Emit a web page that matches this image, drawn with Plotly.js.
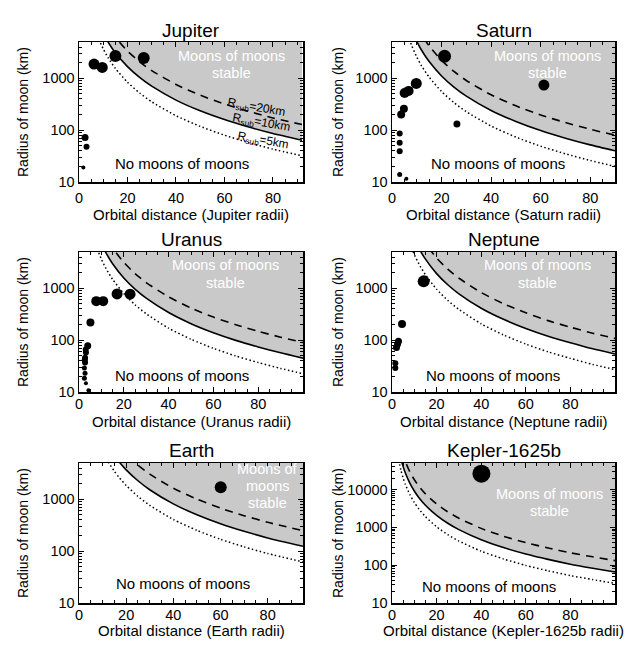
<!DOCTYPE html>
<html><head><meta charset="utf-8">
<script src="https://cdn.plot.ly/plotly-3.0.1.min.js"></script>
<style>html,body{margin:0;padding:0;background:#fff}#chart{width:640px;height:647px}</style>
</head><body><div id="chart"></div>
<script>
// ---------- data ----------
const xTickVals = [0, 20, 40, 60, 80];
const xTickText = ['0', '20', '40', '60', '80'];
const yTickVals = [10, 100, 1000, 10000];
const yTickText = ['10', '100', '1000', '10000'];
const yMinorVals = [20,30,40,50,60,70,80,90,200,300,400,500,600,700,800,900,2000,3000,4000,5000,6000,7000,8000,9000,20000,30000,40000,50000];

const panelNames = ['Jupiter', 'Saturn', 'Uranus', 'Neptune', 'Earth', 'Kepler-1625b'];
const xTitles = ['Orbital distance (Jupiter radii)', 'Orbital distance (Saturn radii)', 'Orbital distance (Uranus radii)',
                 'Orbital distance (Neptune radii)', 'Orbital distance (Earth radii)', 'Orbital distance (Kepler-1625b radii)'];
const rsubLabels = ['R<sub>sub</sub>=20km', 'R<sub>sub</sub>=10km', 'R<sub>sub</sub>=5km'];

// critical-radius curves (solid = Rsub 10 km, dashed = 20 km, dotted = 5 km)
const jupiterCurveX = [6, 8, 10, 12, 15, 20, 25, 30, 40, 50, 60, 70, 80, 92];
const jupiterSolid  = [22000, 11900, 7380, 5000, 3100, 1680, 1040, 704, 380, 236, 160, 115, 86, 64];
const jupiterDashed = [44000, 23800, 14760, 10000, 6200, 3360, 2080, 1408, 760, 472, 320, 230, 172, 128];
const jupiterDotted = [11000, 5950, 3690, 2500, 1550, 840, 520, 352, 190, 118, 80, 57.5, 43, 32];

const saturnCurveX = [6, 8, 10, 12, 15, 20, 25, 30, 40, 50, 60, 70, 80, 90];
const saturnSolid  = [15900, 8420, 5140, 3440, 2100, 1110, 679, 454, 240, 147, 98, 70, 52, 40];
const saturnDashed = [31800, 16840, 10280, 6880, 4200, 2220, 1358, 908, 480, 294, 196, 140, 104, 80];
const saturnDotted = [7950, 4210, 2570, 1720, 1050, 555, 340, 227, 120, 73.5, 49, 35, 26, 20];

const uranusCurveX = [6, 8, 10, 12, 15, 20, 25, 30, 40, 50, 60, 70, 80, 90, 100];
const uranusSolid  = [22500, 11950, 7290, 4870, 2980, 1580, 963, 644, 341, 208, 139, 99, 74, 57, 45];
const uranusDashed = [45000, 23900, 14580, 9740, 5960, 3160, 1926, 1288, 682, 416, 278, 198, 148, 114, 90];
const uranusDotted = [11250, 5975, 3645, 2435, 1490, 790, 482, 322, 170, 104, 69.5, 49.5, 37, 28.5, 22.5];

const neptuneCurveX = [6, 8, 10, 12, 15, 20, 25, 30, 40, 50, 60, 70, 80, 90, 100];
const neptuneSolid  = [27900, 14700, 8960, 5980, 3650, 1920, 1170, 783, 413, 252, 168, 119, 89, 68, 54];
const neptuneDashed = [55800, 29400, 17920, 11960, 7300, 3840, 2340, 1566, 826, 504, 336, 238, 178, 136, 108];
const neptuneDotted = [13950, 7350, 4480, 2990, 1825, 960, 585, 392, 206, 126, 84, 59.5, 44.5, 34, 27];

const earthCurveX = [8, 10, 12, 15, 17, 20, 25, 30, 40, 50, 60, 70, 80, 95];
const earthSolid  = [27300, 16800, 11300, 6940, 5280, 3700, 2280, 1530, 817, 503, 338, 242, 180, 124];
const earthDashed = [54600, 33600, 22600, 13880, 10560, 7400, 4560, 3060, 1634, 1006, 676, 484, 360, 248];
const earthDotted = [13650, 8400, 5650, 3470, 2640, 1850, 1140, 765, 408, 252, 169, 121, 90, 62];

const keplerCurveX = [3, 4, 5, 6, 8, 10, 12, 15, 20, 25, 30, 40, 50, 60, 70, 80, 90, 100];
const keplerSolid  = [119900, 64800, 40200, 27200, 14700, 9110, 6170, 3830, 2070, 1280, 868, 469, 291, 197, 142, 106, 83, 66];
const keplerDashed = [239800, 129600, 80400, 54400, 29400, 18220, 12340, 7660, 4140, 2560, 1736, 938, 582, 394, 284, 212, 166, 132];
const keplerDotted = [59950, 32400, 20100, 13600, 7350, 4555, 3085, 1915, 1035, 640, 434, 234, 146, 98.5, 71, 53, 41.5, 33];

// moons: orbital distance (planet radii), radius (km), marker size
const jupiterMoonX = [1.8, 2.5, 3.1, 6.2, 9.6, 15.0, 26.7];
const jupiterMoonR = [19, 72, 48, 1885, 1620, 2700, 2470];
const jupiterMoonS = [4, 7, 6, 11, 11, 12, 12];

const saturnMoonX = [3.1, 3.1, 3.1, 3.1, 5.8, 3.7, 4.8, 5.1, 6.7, 9.8, 21.2, 26.2, 61.3];
const saturnMoonR = [86, 57, 39, 14, 11.5, 200, 258, 522, 572, 795, 2660, 131, 740];
const saturnMoonS = [6, 6, 6, 5, 4, 8, 8, 10, 10, 11, 13, 7, 11];

const uranusMoonX = [2.4, 2.7, 2.4, 2.7, 2.6, 2.7, 3.1, 3.0, 3.9, 3.1, 4.2, 5.1, 7.7, 10.8, 17.0, 22.8];
const uranusMoonR = [18.5, 23, 29, 37, 42, 46, 58, 66, 78, 14.7, 10.8, 220, 565, 565, 780, 770];
const uranusMoonS = [5, 5, 5, 6, 6, 6, 6, 6, 7, 4, 4, 8, 10, 10, 11, 11];

const neptuneMoonX = [1.5, 1.5, 2.0, 2.5, 2.9, 4.5, 14.2];
const neptuneMoonR = [29, 36, 72, 84, 95, 205, 1360];
const neptuneMoonS = [6, 6, 7, 7, 7, 8, 12];

const earthMoonX = [60.1];
const earthMoonR = [1700];
const earthMoonS = [12];

const keplerMoonX = [40.1];
const keplerMoonR = [26100];
const keplerMoonS = [18];

// ---------- layout configuration ----------
const W = 640, H = 647;
const colX = [[79, 303], [392, 615]];
const rowY = [[42, 182], [252, 392], [463, 603]];
const panels = [
  {cx: jupiterCurveX, s: jupiterSolid, d: jupiterDashed, o: jupiterDotted, mx: jupiterMoonX, my: jupiterMoonR, ms: jupiterMoonS,
   xr: [0, 92.4], yt: 3.7, col: 0, row: 0, stable: [[62.8, 3.437, 'Moons of moons'], [62.8, 3.103, 'stable']], no: [42.6, 1.353]},
  {cx: saturnCurveX, s: saturnSolid, d: saturnDashed, o: saturnDotted, mx: saturnMoonX, my: saturnMoonR, ms: saturnMoonS,
   xr: [0, 90], yt: 3.7, col: 1, row: 0, stable: [[62.8, 3.437, 'Moons of moons'], [62.8, 3.103, 'stable']], no: [42.9, 1.353]},
  {cx: uranusCurveX, s: uranusSolid, d: uranusDashed, o: uranusDotted, mx: uranusMoonX, my: uranusMoonR, ms: uranusMoonS,
   xr: [0, 100], yt: 3.7, col: 0, row: 1, stable: [[65.2, 3.445, 'Moons of moons'], [65.2, 3.105, 'stable']], no: [45.8, 1.32]},
  {cx: neptuneCurveX, s: neptuneSolid, d: neptuneDashed, o: neptuneDotted, mx: neptuneMoonX, my: neptuneMoonR, ms: neptuneMoonS,
   xr: [0, 100], yt: 3.7, col: 1, row: 1, stable: [[65.4, 3.445, 'Moons of moons'], [65.4, 3.105, 'stable']], no: [45.5, 1.32]},
  {cx: earthCurveX, s: earthSolid, d: earthDashed, o: earthDotted, mx: earthMoonX, my: earthMoonR, ms: earthMoonS,
   xr: [0, 95], yt: 3.7, col: 0, row: 2, stable: [[80, 3.585, 'Moons of'], [80, 3.26, 'moons'], [80, 2.935, 'stable']], no: [44.1, 1.373]},
  {cx: keplerCurveX, s: keplerSolid, d: keplerDashed, o: keplerDotted, mx: keplerMoonX, my: keplerMoonR, ms: keplerMoonS,
   xr: [0, 100], yt: 4.7, col: 1, row: 2, stable: [[70.6, 3.893, 'Moons of moons'], [70.6, 3.441, 'stable']], no: [43.7, 1.427]}
];
const titleY = [30, 239, 450];
const xTitleY = [214, 421, 630];
const tickStandoff = [2, -2, -2];
const yTitleX = [23, 338];

const FONT = 'Liberation Sans, Arial, Helvetica, sans-serif';
const traces = [];
const layout = {
  width: W, height: H, margin: {l: 0, r: 0, t: 0, b: 0},
  paper_bgcolor: '#fff', plot_bgcolor: '#fff', showlegend: false,
  font: {family: FONT, color: '#000', size: 14.5},
  annotations: []
};
function ann(o) { layout.annotations.push(Object.assign({showarrow: false, borderpad: 0, font: {family: FONT, size: 15, color: '#000'}}, o)); }

panels.forEach((p, i) => {
  const n = i + 1;
  const xa = 'x' + (n === 1 ? '' : n), ya = 'y' + (n === 1 ? '' : n);
  const xk = 'xaxis' + (n === 1 ? '' : n), yk = 'yaxis' + (n === 1 ? '' : n);
  const [x0, x1] = colX[p.col], [y0, y1] = rowY[p.row];
  const nPts = p.cx.length;
  // shaded stable region above the solid curve
  traces.push({x: p.cx.concat([p.cx[nPts - 1], p.cx[0]]), y: p.s.concat([1e7, 1e7]), xaxis: xa, yaxis: ya,
    type: 'scatter', mode: 'lines', fill: 'toself', fillcolor: '#c9c9c9', line: {width: 0}, hoverinfo: 'skip'});
  traces.push({x: p.cx, y: p.d, xaxis: xa, yaxis: ya, type: 'scatter', mode: 'lines',
    line: {color: '#000', width: 1.6, dash: '8px,6px', shape: 'spline', smoothing: 0.6}});
  traces.push({x: p.cx, y: p.s, xaxis: xa, yaxis: ya, type: 'scatter', mode: 'lines',
    line: {color: '#000', width: 1.6, shape: 'spline', smoothing: 0.6}});
  traces.push({x: p.cx, y: p.o, xaxis: xa, yaxis: ya, type: 'scatter', mode: 'lines',
    line: {color: '#000', width: 1.5, dash: '1.5px,2.5px', shape: 'spline', smoothing: 0.6}});
  traces.push({x: p.mx, y: p.my, xaxis: xa, yaxis: ya, type: 'scatter', mode: 'markers',
    marker: {color: '#000', size: p.ms, opacity: 1, line: {width: 0}}});

  const axCommon = {showline: true, linecolor: '#000', linewidth: 1.5, mirror: 'ticks', ticks: 'inside',
    tickcolor: '#000', tickwidth: 1, showgrid: false, zeroline: false, fixedrange: true,
    tickfont: {family: FONT, size: 14.5, color: '#000'}};
  layout[xk] = Object.assign({}, axCommon, {domain: [x0 / W, x1 / W], anchor: ya, range: p.xr,
    tickvals: xTickVals, ticktext: xTickText, ticklen: 5, ticklabelstandoff: tickStandoff[p.row],
    minor: {tickvals: [5,10,15,25,30,35,45,50,55,65,70,75,85,90,95], ticks: 'inside', ticklen: 3, tickcolor: '#000', tickwidth: 1}});
  layout[yk] = Object.assign({}, axCommon, {domain: [1 - y1 / H, 1 - y0 / H], anchor: xa, type: 'log', range: [1, p.yt],
    tickvals: yTickVals, ticktext: yTickText, ticklen: 5,
    minor: {tickvals: yMinorVals, ticks: 'inside', ticklen: 3, tickcolor: '#000', tickwidth: 1}});

  // titles
  ann({xref: 'paper', yref: 'paper', x: (x0 + x1) / 2 / W, y: 1 - titleY[p.row] / H, xanchor: 'center', yanchor: 'middle',
       text: panelNames[i], font: {family: FONT, size: 19, color: '#000'}});
  ann({xref: 'paper', yref: 'paper', x: (x0 + x1) / 2 / W, y: 1 - xTitleY[p.row] / H, xanchor: 'center', yanchor: 'middle',
       text: xTitles[i], font: {family: FONT, size: 15, color: '#000'}});
  ann({xref: 'paper', yref: 'paper', x: yTitleX[p.col] / W, y: 1 - (y0 + y1) / 2 / H, xanchor: 'center', yanchor: 'middle',
       text: 'Radius of moon (km)', textangle: -90, font: {family: FONT, size: 14, color: '#000'}});
  // region labels
  p.stable.forEach(s => ann({xref: xa, yref: ya, x: s[0], y: s[1], xanchor: 'center', yanchor: 'middle', text: s[2],
       font: {family: FONT, size: 14.5, color: '#fff'}}));
  ann({xref: xa, yref: ya, x: p.no[0], y: p.no[1], xanchor: 'center', yanchor: 'middle', text: 'No moons of moons',
       font: {family: FONT, size: 15, color: '#000'}});
});

// Rsub labels (Jupiter panel)
[[73.2, 2.431], [75.1, 2.137], [75.9, 1.79]].forEach((pos, k) => ann({xref: 'x', yref: 'y', x: pos[0], y: pos[1],
  xanchor: 'center', yanchor: 'middle', text: rsubLabels[k], textangle: 10, font: {family: FONT, size: 12, color: '#000'}}));

Plotly.newPlot('chart', traces, layout, {displayModeBar: false, staticPlot: true});
</script></body></html>
